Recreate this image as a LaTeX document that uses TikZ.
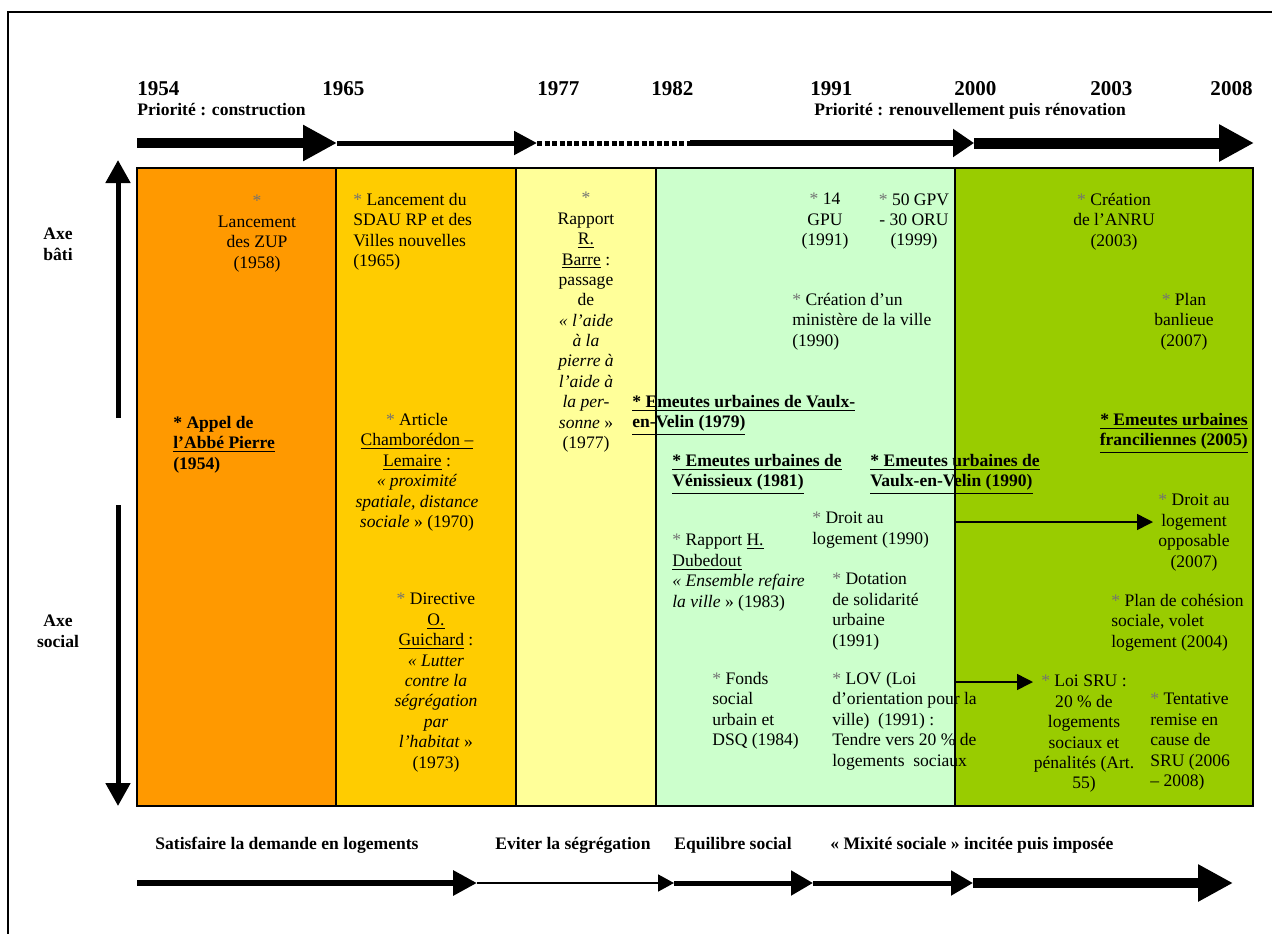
\documentclass[tikz,border=0pt]{standalone}
\usepackage{fontspec}
\setmainfont{Liberation Serif}
\usetikzlibrary{arrows.meta}
\definecolor{cOrange}{HTML}{FF9900}
\definecolor{cGold}{HTML}{FFCC00}
\definecolor{cPale}{HTML}{FFFF99}
\definecolor{cMint}{HTML}{CCFFCC}
\definecolor{cLime}{HTML}{99CC00}
\newcommand{\etoile}{\textcolor{black!55}{*}}
\begin{document}
\begin{tikzpicture}[x=0.02cm,y=-0.02cm,line join=miter,
	txt/.style={font=\fontsize{10}{11.6}\selectfont,inner sep=0pt,align=left,anchor=north west,execute at begin node=\strut},
	txtc/.style={txt,align=center,anchor=north},
	lbl/.style={txt,anchor=base west},
	bold/.style={font=\fontsize{10}{11.6}\selectfont\bfseries},
	year/.style={font=\fontsize{12}{14}\selectfont\bfseries,inner sep=0pt,anchor=base west},
	fleche/.style 2 args={-{Triangle[length=#1,width=#2]}}]
	\useasboundingbox (0,0) rectangle (1272,934);
	\def\ya{168} \def\yb{806} % haut et bas des colonnes
	\def\yh{143} \def\ybas{883}
	\draw[line width=1pt] (1272,12)--(8,12)--(8,934);
	% colonnes
	\fill[cOrange] (137,\ya) rectangle (336,\yb);
	\fill[cGold] (336,\ya) rectangle (516,\yb);
	\fill[cPale] (516,\ya) rectangle (656,\yb);
	\fill[cMint] (656,\ya) rectangle (955,\yb);
	\fill[cLime] (955,\ya) rectangle (1253,\yb);
	% annees
	\node[year] (a54) at (137,95) {1954};
	\node[year] (a65) at (322,95) {1965};
	\node[year] (a77) at (537,95) {1977};
	\node[year] (a82) at (651,95) {1982};
	\node[year] (a91) at (810,95) {1991};
	\node[year] (a00) at (954,95) {2000};
	\node[year] (a03) at (1090,95) {2003};
	\node[year,anchor=base east] (a08) at (1253,95) {2008};
	\node[lbl,bold] (prio1) at (137,115) {Priorité : construction};
	\node[lbl,bold] (prio2) at (814,115) {Priorité : renouvellement puis rénovation};
	% fleche du haut
	\coordinate (h0) at (137,\yh); \coordinate (h1) at (337,\yh);
	\coordinate (h2) at (537,\yh); \coordinate (h3) at (690,\yh);
	\coordinate (h4) at (974,\yh); \coordinate (h5) at (1254,\yh);
	\draw[line width=0.19cm,fleche={0.68cm}{0.68cm}] (h0)--(h1);
	\draw[line width=0.1cm,fleche={0.46cm}{0.46cm}] (h1)--(h2);
	\draw[line width=0.1cm,dash pattern=on 0.1cm off 0.05cm] (h2)--(h3);
	\draw[line width=0.13cm,fleche={0.42cm}{0.54cm}] (h3)--(h4);
	\draw[line width=0.22cm,fleche={0.7cm}{0.7cm}] (h4)--(h5);
	% axes
	\node[txtc,bold] (bati) at (58,228) {Axe\\bâti};
	\node[txtc,bold] (social) at (58,615) {Axe\\social};
	\coordinate (v0) at (118,418); \coordinate (v1) at (118,160);
	\coordinate (v2) at (118,505); \coordinate (v3) at (118,806);
	\draw[line width=0.1cm,fleche={0.46cm}{0.48cm}] (v0)--(v1);
	\draw[line width=0.1cm,fleche={0.46cm}{0.48cm}] (v2)--(v3);
	% 1954-1965
	\node[txtc] (zup) at (257,195) {\etoile\\Lancement\\des ZUP\\(1958)};
	\node[txt,bold] (abbe) at (173,416) {* Appel de\\\underline{l’Abbé Pierre}\\(1954)};
	% 1965-1977
	\node[txt] (sdau) at (353,193) {\etoile{} Lancement du\\SDAU RP et des\\Villes nouvelles\\(1965)};
	\node[txtc] (chambo) at (417,413) {\etoile{} Article\\\underline{Chamborédon –}\\\underline{Lemaire} :\\\textit{« proximité}\\\textit{spatiale, distance}\\\textit{sociale} » (1970)};
	\node[txtc] (guich) at (436,593) {\etoile{} Directive\\\underline{O.}\\\underline{Guichard} :\\\textit{« Lutter}\\\textit{contre la}\\\textit{ségrégation}\\\textit{par}\\\textit{l’habitat} »\\(1973)};
	% 1977-1982
	\node[txtc] (barre) at (586,192) {\etoile\\Rapport\\\underline{R.}\\\underline{Barre} :\\passage\\de\\\textit{« l’aide}\\\textit{à la}\\\textit{pierre à}\\\textit{l’aide à}\\\textit{la per-}\\\textit{sonne} »\\(1977)};
	\node[txt,bold] (vaulxA) at (632,395) {\underline{* Emeutes urbaines de Vaulx-}\\\underline{en-Velin (1979)}};
	% 1982-2000
	\node[txtc] (gpu) at (825,193) {\etoile{} 14\\GPU\\(1991)};
	\node[txtc] (gpv) at (914,193) {\etoile{} 50 GPV\\- 30 ORU\\(1999)};
	\node[txt] (minis) at (792,293) {\etoile{} Création d’un\\ministère de la ville\\(1990)};
	\node[txt,bold] (venis) at (672,454) {\underline{* Emeutes urbaines de}\\\underline{Vénissieux (1981)}};
	\node[txt,bold] (vaulxB) at (870,454) {\underline{* Emeutes urbaines de}\\\underline{Vaulx-en-Velin (1990)}};
	\node[txt] (droit) at (812,512) {\etoile{} Droit au\\logement (1990)};
	\node[txt] (dubed) at (672,534) {\etoile{} Rapport \underline{H.}\\\underline{Dubedout}\\\textit{« Ensemble refaire}\\\textit{la ville} » (1983)};
	\node[txt] (dsu) at (832,573) {\etoile{} Dotation\\de solidarité\\urbaine\\(1991)};
	\node[txt] (fonds) at (712,672) {\etoile{} Fonds\\social\\urbain et\\DSQ (1984)};
	\node[txt] (lov) at (832,672) {\etoile{} LOV (Loi\\d’orientation pour la\\ville)\ \ (1991) :\\Tendre vers 20~\% de\\logements\ \ sociaux};
	% 2000-2008
	\node[txtc] (anru) at (1114,193) {\etoile{} Création\\de l’ANRU\\(2003)};
	\node[txtc] (banl) at (1184,293) {\etoile{} Plan\\banlieue\\(2007)};
	\node[txt,bold,align=right,anchor=north east] (franc) at (1248,413) {\underline{* Emeutes urbaines}\\\underline{franciliennes (2005)}};
	\node[txtc] (dalo) at (1194,494) {\etoile{} Droit au\\logement\\opposable\\(2007)};
	\node[txt] (cohes) at (1111,594) {\etoile{} Plan de cohésion\\sociale, volet\\logement (2004)};
	\node[txtc] (sru) at (1084,675) {\etoile{} Loi SRU :\\20~\% de\\logements\\sociaux et\\pénalités (Art.\\55)};
	\node[txt] (tenta) at (1150,693) {\etoile{} Tentative\\remise en\\cause de\\SRU (2006\\– 2008)};
	\coordinate (d0) at (955,522); \coordinate (d1) at (1153,522);
	\coordinate (s0) at (955,682); \coordinate (s1) at (1033,682);
	\draw[line width=0.03cm,fleche={0.32cm}{0.32cm}] (d0)--(d1);
	\draw[line width=0.03cm,fleche={0.32cm}{0.32cm}] (s0)--(s1);
	% bords des colonnes
	\draw[line width=0.8pt] (137,\ya) rectangle (1253,\yb);
	\foreach \xc in {336,516,656,955}
		\draw[line width=0.8pt] (\xc,\ya)--(\xc,\yb);
	% fleche du bas
	\node[lbl,bold] (obj1) at (155,849) {Satisfaire la demande en logements};
	\node[lbl,bold] (obj2) at (495,849) {Eviter la ségrégation};
	\node[lbl,bold] (obj3) at (674,849) {Equilibre social};
	\node[lbl,bold] (obj4) at (830,849) {« Mixité sociale » incitée puis imposée};
	\coordinate (b0) at (137,\ybas); \coordinate (b1) at (477,\ybas);
	\coordinate (b2) at (674,\ybas); \coordinate (b3) at (813,\ybas);
	\coordinate (b4) at (973,\ybas); \coordinate (b5) at (1233,\ybas);
	\draw[line width=0.13cm,fleche={0.48cm}{0.48cm}] (b0)--(b1);
	\draw[line width=0.035cm,fleche={0.32cm}{0.34cm}] (b1)--(b2);
	\draw[line width=0.1cm,fleche={0.44cm}{0.48cm}] (b2)--(b3);
	\draw[line width=0.1cm,fleche={0.44cm}{0.48cm}] (b3)--(b4);
	\draw[line width=0.2cm,fleche={0.7cm}{0.7cm}] (b4)--(b5);
\end{tikzpicture}
\end{document}
